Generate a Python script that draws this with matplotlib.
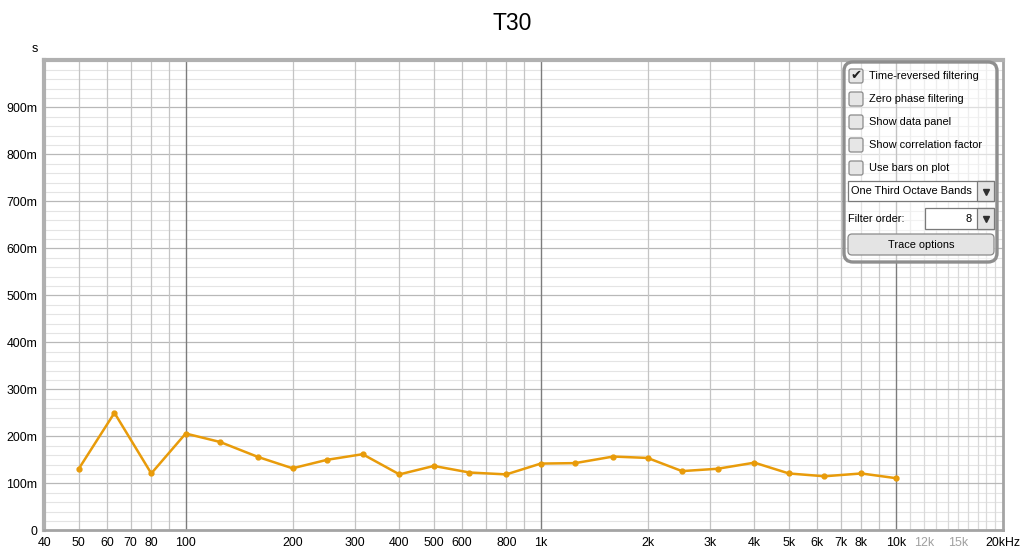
import matplotlib.pyplot as plt
from matplotlib.patches import FancyBboxPatch, Rectangle

# third octave band centres (Hz) and measured T30 (s)
bandas = [50, 63, 80, 100, 125, 160, 200, 250, 315, 400, 500, 630, 800,
          1000, 1250, 1600, 2000, 2500, 3150, 4000, 5000, 6300, 8000, 10000]
t30 = [0.131, 0.250, 0.121, 0.206, 0.188, 0.156, 0.132, 0.150, 0.162, 0.119,
       0.137, 0.123, 0.119, 0.142, 0.143, 0.157, 0.154, 0.126, 0.131, 0.144,
       0.121, 0.115, 0.121, 0.111]

etiq_x = [40, 50, 60, 70, 80, 100, 200, 300, 400, 500, 600, 800,
          1000, 2000, 3000, 4000, 5000, 6000, 7000, 8000, 10000, 12000, 15000, 20000]
textos_x = ['40', '50', '60', '70', '80', '100', '200', '300', '400', '500', '600', '800',
            '1k', '2k', '3k', '4k', '5k', '6k', '7k', '8k', '10k', '12k', '15k', '20kHz']
etiq_y = [0, 0.1, 0.2, 0.3, 0.4, 0.5, 0.6, 0.7, 0.8, 0.9]
textos_y = ['0', '100m', '200m', '300m', '400m', '500m', '600m', '700m', '800m', '900m']

opciones = ['Time-reversed filtering', 'Zero phase filtering', 'Show data panel',
            'Show correlation factor', 'Use bars on plot']
marcadas = [True, False, False, False, False]

plt.rcParams['font.family'] = ['Liberation Sans', 'DejaVu Sans']

fig = plt.figure(figsize=(10.24, 5.54), dpi=100)
ax = fig.add_axes([44.4 / 1024, 23.7 / 554, 958.2 / 1024, 469.8 / 554])

ax.set_xscale('log')
ax.set_xlim(40, 20000)
ax.set_ylim(0, 1.0)

# cuadricula horizontal
for k in range(1, 50):
    v = k * 0.02
    if k % 5 == 0:
        ax.axhline(v, color='#b8b8b8', lw=0.9, zorder=1)
    else:
        ax.axhline(v, color='#e4e4e4', lw=0.8, zorder=0)

# cuadricula vertical
for dec in [10, 100, 1000, 10000]:
    for k in range(1, 10):
        f = dec * k
        if f <= 40 or f >= 20000:
            continue
        if k == 1:
            ax.axvline(f, color='#7c7c7c', lw=1.0, zorder=1)
        elif f > 10000:
            pass
        else:
            ax.axvline(f, color='#c4c4c4', lw=0.9, zorder=1)
for f in range(11000, 20000, 1000):
    ax.axvline(f, color='#dadada', lw=0.9, zorder=0)

ax.plot(bandas, t30, color='#e89b0a', lw=1.8, marker='o', markersize=3.5, zorder=3)

ax.set_xticks(etiq_x, textos_x)
ax.minorticks_off()
ax.set_yticks(etiq_y, textos_y)
ax.tick_params(length=0, labelsize=8.9, pad=5)
for lab in ax.get_xticklabels():
    if lab.get_text() in ('12k', '15k'):
        lab.set_color('#a0a0a0')

for lado in ['right', 'bottom']:
    ax.spines[lado].set_color('#a4a4a4')
    ax.spines[lado].set_linewidth(2)
for lado in ['left', 'top']:
    ax.spines[lado].set_color('#b0b0b0')
    ax.spines[lado].set_linewidth(3)

fig.suptitle('T30', x=0.5, y=0.978, fontsize=16.5, va='top')

# capa superior en pixeles para el panel de opciones
ov = fig.add_axes([0, 0, 1, 1], facecolor='none')
ov.set_xlim(0, 1024)
ov.set_ylim(554, 0)
ov.axis('off')

ov.text(35, 49, 's', fontsize=9, ha='center', va='center')

ov.add_patch(FancyBboxPatch((844, 62), 153, 200, boxstyle='round,pad=0,rounding_size=9',
                            facecolor=(1, 1, 1, 0.55), edgecolor='#8e8e8e', lw=2.4))

for i, (txt, marca) in enumerate(zip(opciones, marcadas)):
    yc = 76 + i * 23
    ov.add_patch(FancyBboxPatch((849, yc - 7), 14, 14, boxstyle='round,pad=0,rounding_size=2',
                                facecolor='#e6e6e6', edgecolor='#8a8a8a', lw=0.9))
    if marca:
        ov.text(856, yc, '\u2714', family='DejaVu Sans', fontsize=9.5,
                ha='center', va='center', color='#202020')
    ov.text(869, yc, txt, fontsize=7.9, ha='left', va='center')

# desplegable de bandas
ov.add_patch(Rectangle((848, 181), 146, 20, facecolor='white', edgecolor='#7a7a7a', lw=0.9))
ov.add_patch(Rectangle((977, 181), 17, 20, facecolor='#e4e4e4', edgecolor='#7a7a7a', lw=0.9))
ov.plot([985.5], [191.5], marker='v', color='#303030', markersize=5)
ov.text(851, 191.5, 'One Third Octave Bands', fontsize=7.9, ha='left', va='center')

# orden del filtro
ov.text(848, 218.5, 'Filter order:', fontsize=7.9, ha='left', va='center')
ov.add_patch(Rectangle((925, 208), 69, 21, facecolor='white', edgecolor='#7a7a7a', lw=0.9))
ov.add_patch(Rectangle((977, 208), 17, 21, facecolor='#e4e4e4', edgecolor='#7a7a7a', lw=0.9))
ov.plot([985.5], [218.5], marker='v', color='#303030', markersize=5)
ov.text(972, 218.5, '8', fontsize=7.9, ha='right', va='center')

# boton
ov.add_patch(FancyBboxPatch((848, 234), 146, 21, boxstyle='round,pad=0,rounding_size=4',
                            facecolor='#e4e4e4', edgecolor='#8a8a8a', lw=0.9))
ov.text(921, 244.5, 'Trace options', fontsize=7.9, ha='center', va='center')

fig.savefig('out.png', dpi=100)
